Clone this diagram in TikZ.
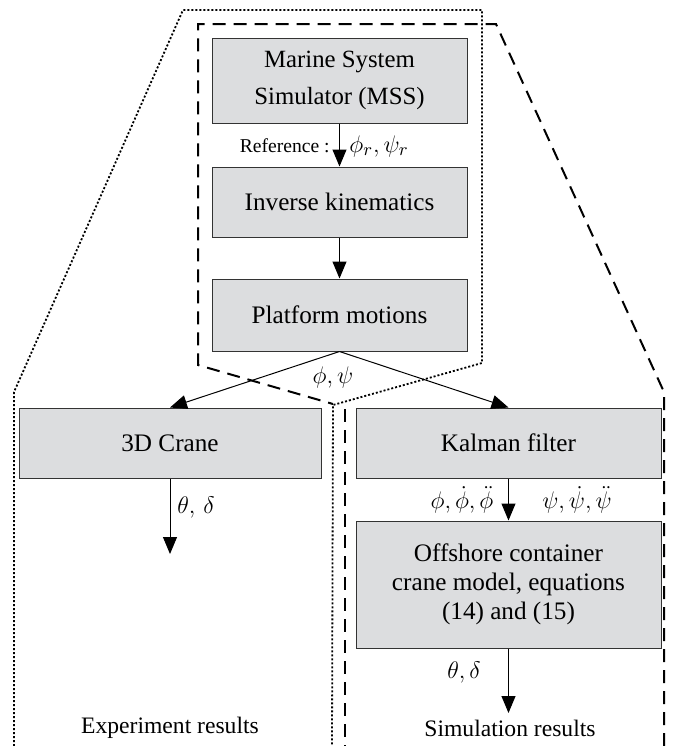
\documentclass[tikz,border=0pt]{standalone}
\usepackage{fontspec}
\setmainfont{Liberation Serif}
\usetikzlibrary{arrows.meta}
\definecolor{boxgray}{RGB}{220,221,223}
\begin{document}
\begin{tikzpicture}[x=0.5pt,y=-0.5pt,
  blk/.style={draw=black!80,line width=0.5pt,fill=boxgray,inner sep=0pt,align=center,font=\fontsize{12.6}{14.6}\selectfont},
  arr/.style={line width=0.5pt,-{Triangle[length=8.5pt,width=7pt]}},
  dashline/.style={line width=1pt,dash pattern=on 6.5pt off 4pt},
  dotline/.style={line width=0.9pt,dash pattern=on 1pt off 1pt},
  lbl/.style={inner sep=0pt,font=\fontsize{12.5}{14}\selectfont},
  res/.style={inner sep=0pt,font=\fontsize{11.8}{13}\selectfont}]
\useasboundingbox (0,0) rectangle (675,746);
% boxes
\node[blk,minimum width=127.5pt,minimum height=42.5pt,font=\fontsize{12.4}{18.5}\selectfont] (mss) at (339.5,80.5) {Marine System\\Simulator (MSS)};
\node[blk,minimum width=127.5pt,minimum height=35pt] (ik) at (339.5,202) {Inverse kinematics};
\node[blk,minimum width=127.5pt,minimum height=36pt] (pm) at (339.5,315) {Platform motions};
\node[blk,minimum width=151pt,minimum height=35pt] (crane) at (170,443) {3D Crane};
\node[blk,minimum width=152.5pt,minimum height=35pt] (kf) at (508.5,443) {Kalman filter};
\node[blk,minimum width=152.5pt,minimum height=63.5pt] (osc) at (508.5,584.5) {Offshore container\\crane model, equations\\(14) and (15)};
% outline coordinates
\coordinate (d1) at (198,24);
\coordinate (d2) at (496,24);
\coordinate (d3) at (664,392);
\coordinate (d4) at (664,746);
\coordinate (d5) at (198,365);
\coordinate (d6) at (333,404);
\coordinate (d7) at (345,409);
\coordinate (d8) at (345,746);
\coordinate (t1) at (14,746);
\coordinate (t2) at (14,392);
\coordinate (t3) at (183,10);
\coordinate (t4) at (482,10);
\coordinate (t5) at (482,363);
\coordinate (t6) at (333,405);
\coordinate (t7) at (332,746);
\draw[dashline] (d4) -- (d3) -- (d2) -- (d1) -- (d5) -- (d6);
\draw[dashline] (d7) -- (d8);
\draw[dotline] (t1) -- (t2) -- (t3) -- (t4) -- (t5) -- (t6) -- (t7);
% end points
\coordinate (ce) at (170,554);
\coordinate (oe) at (508.5,713);
% arrows
\draw[arr] (mss) -- (ik);
\draw[arr] (ik) -- (pm);
\draw[arr] (pm.south) -- (crane.north);
\draw[arr] (pm.south) -- (kf.north);
\draw[arr] (crane) -- (ce);
\draw[arr] (kf) -- (osc);
\draw[arr] (osc) -- (oe);
% labels
\node[inner sep=0pt,anchor=east,font=\fontsize{9.8}{11}\selectfont] (refl) at (330,146) {Reference :};
\node[lbl,anchor=west] (refm) at (349,146) {$\phi_r,\psi_r$};
\node[lbl] (pp) at (333,377) {$\phi,\psi$};
\node[lbl] (td1) at (196,507) {$\theta,\,\delta$};
\node[lbl] (phis) at (462,500) {$\phi,\dot\phi,\ddot\phi$};
\node[lbl] (psis) at (577,500) {$\psi,\dot\psi,\ddot\psi$};
\node[lbl] (td2) at (464,672) {$\theta,\delta$};
\node[res] (er) at (170,728) {Experiment results};
\node[res] (sr) at (510,728) {Simulation results};
\end{tikzpicture}
\end{document}
